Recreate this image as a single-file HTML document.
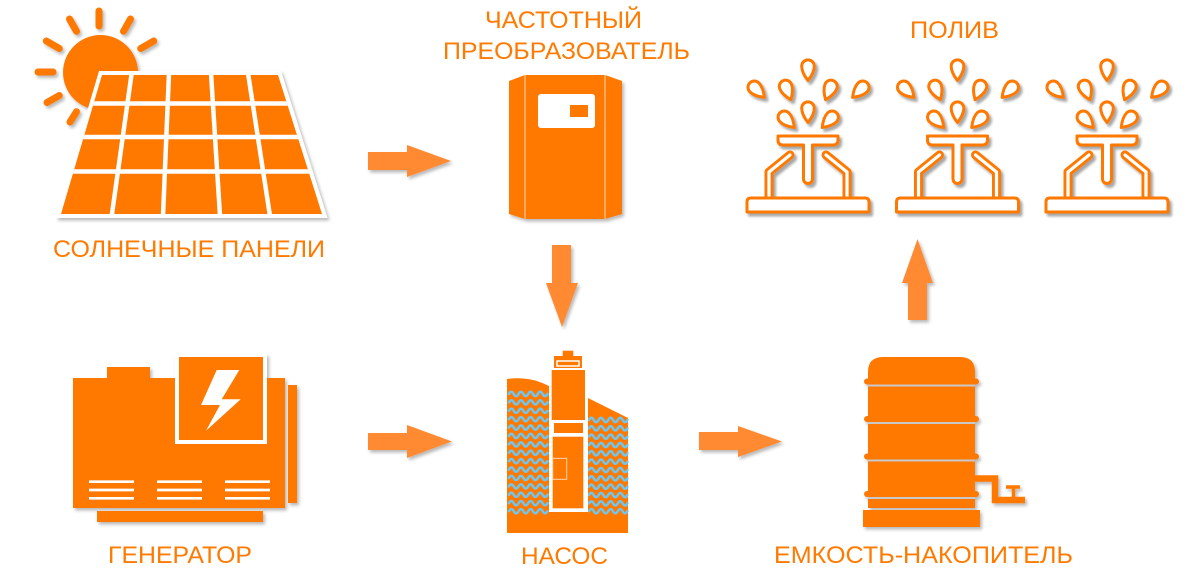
<!DOCTYPE html>
<html><head><meta charset="utf-8"><style>html,body{margin:0;padding:0;background:#fff;}svg{display:block}</style></head>
<body>
<svg width="1200" height="579" viewBox="0 0 1200 579" xmlns="http://www.w3.org/2000/svg" xmlns:xlink="http://www.w3.org/1999/xlink">
<defs>
<filter id="sh" x="-15%" y="-15%" width="140%" height="140%"><feDropShadow dx="2" dy="2.5" stdDeviation="1.5" flood-color="#000" flood-opacity="0.28"/></filter>
<filter id="sh2" x="-15%" y="-15%" width="140%" height="140%"><feDropShadow dx="2.5" dy="3" stdDeviation="1.3" flood-color="#000" flood-opacity="0.35"/></filter>
<clipPath id="pc"><polygon points="102,75 278,75 322,214 61,214"/></clipPath>
<path id="wv" d="M0,0 q2.4,-4.4 4.8,0 t4.8,0 t4.8,0 t4.8,0 t4.8,0 t4.8,0 t4.8,0 t4.8,0" fill="none" stroke="#6fc6f0" stroke-width="2.5" stroke-linecap="round"/>
<path id="drop" d="M0,10.5 C-3.5,6 -6.3,1.5 -6.3,-3.8 A6.3,6.3 0 0 1 6.3,-3.8 C6.3,1.5 3.5,6 0,10.5 Z"/>
<g id="spr" fill="#fff" stroke="#ff7800" stroke-width="3" stroke-linejoin="round">
 <use xlink:href="#drop" href="#drop" transform="translate(0,70)"/>
 <use xlink:href="#drop" href="#drop" transform="translate(-51,90) rotate(-45)"/>
 <use xlink:href="#drop" href="#drop" transform="translate(-21,90) rotate(-22)"/>
 <use xlink:href="#drop" href="#drop" transform="translate(21.5,90) rotate(22)"/>
 <use xlink:href="#drop" href="#drop" transform="translate(52,90) rotate(45)"/>
 <use xlink:href="#drop" href="#drop" transform="translate(0,112)"/>
 <use xlink:href="#drop" href="#drop" transform="translate(-21,120) rotate(-44)"/>
 <use xlink:href="#drop" href="#drop" transform="translate(21.5,120) rotate(44)"/>
 <path d="M-18,155 L-39,172 V201" stroke-width="9" stroke-linecap="round" fill="none"/>
 <path d="M-18,155 L-39,172 V201" stroke="#fff" stroke-width="3.2" stroke-linecap="round" fill="none"/>
 <path d="M18,155 L39,172 V201" stroke-width="9" stroke-linecap="round" fill="none"/>
 <path d="M18,155 L39,172 V201" stroke="#fff" stroke-width="3.2" stroke-linecap="round" fill="none"/>
 <path d="M-30,136 H30 V140 Q30,145 25,145 H4.5 V179 A4.5,4.5 0 0 1 -4.5,179 V145 H-25 Q-30,145 -30,140 Z"/>
 <path d="M-57,198 H57 Q61,198 61,202 V212 H-61 V202 Q-61,198 -57,198 Z"/>
</g>
</defs>

<!-- SOLAR -->
<g filter="url(#sh)">
 <g stroke="#ff7800" stroke-width="7" stroke-linecap="round">
  <line x1="99" y1="11" x2="99" y2="26"/>
  <line x1="76.5" y1="31.3" x2="69.5" y2="19"/>
  <line x1="123.5" y1="31.3" x2="130.5" y2="19"/>
  <line x1="59.3" y1="48.5" x2="46.3" y2="41"/>
  <line x1="140.7" y1="48.5" x2="153.7" y2="41"/>
  <line x1="53" y1="72" x2="38" y2="72"/>
  <line x1="59.3" y1="95.5" x2="47" y2="102.5"/>
  <line x1="76.5" y1="111.7" x2="70" y2="122"/>
 </g>
 <circle cx="100.5" cy="72.5" r="37.5" fill="#ff7800"/>
 <polygon points="102,75 278,75 322,214 61,214" fill="#fff" stroke="#fff" stroke-width="8" stroke-linejoin="miter"/>
 <polygon points="102,75 278,75 322,214 61,214" fill="#ff7800"/>
 <g stroke="#fff" stroke-width="4.5" clip-path="url(#pc)">
  <line x1="50" y1="103.5" x2="330" y2="103.5"/>
  <line x1="50" y1="137" x2="330" y2="137"/>
  <line x1="50" y1="171.5" x2="330" y2="171.5"/>
  <line x1="131.7" y1="73" x2="111.7" y2="216"/>
  <line x1="169" y1="73" x2="163" y2="216"/>
  <line x1="211" y1="73" x2="220" y2="216"/>
  <line x1="248" y1="73" x2="270" y2="216"/>
 </g>
</g>

<!-- CONVERTER -->
<g filter="url(#sh)">
 <polygon points="509,81 525,75 525,219 509,214" fill="#ff7800"/>
 <rect x="525" y="75" width="80" height="144" fill="#ff7800"/>
 <polygon points="605,75 622,81 622,214 605,219" fill="#ff7800"/>
 <line x1="525" y1="75" x2="525" y2="219" stroke="#ffd6b3" stroke-width="1"/>
 <line x1="605" y1="75" x2="605" y2="219" stroke="#ffd6b3" stroke-width="1"/>
 <rect x="538" y="94" width="57" height="34" rx="3" fill="#fff"/>
 <rect x="570" y="105" width="18" height="12" fill="#ff7800"/>
</g>

<!-- SPRINKLERS -->
<use xlink:href="#spr" href="#spr" transform="translate(808,0)" filter="url(#sh2)"/>
<use xlink:href="#spr" href="#spr" transform="translate(957.5,0)" filter="url(#sh2)"/>
<use xlink:href="#spr" href="#spr" transform="translate(1107,0)" filter="url(#sh2)"/>

<!-- ARROWS -->
<g fill="#ff8a30" filter="url(#sh)">
 <polygon points="368,152 407,152 407,145 451,161 407,177 407,170 368,170"/>
 <polygon points="552,245 571,245 571,283 578,283 562,327 546,283 552,283"/>
 <polygon points="368,433 407,433 407,425 452,441.5 407,458 407,450 368,450"/>
 <polygon points="699,432 738,432 738,426 782,441.5 738,457 738,450 699,450"/>
 <polygon points="908,320 927,320 927,283 933,283 917.5,239 902,283 908,283"/>
</g>

<!-- GENERATOR -->
<g filter="url(#sh)">
 <rect x="107" y="367" width="43" height="13" fill="#ff7800"/>
 <rect x="73" y="378" width="212" height="130" fill="#ff7800"/>
 <rect x="175" y="354" width="92" height="90" fill="#fff"/>
 <rect x="179" y="357" width="84" height="83" fill="#ff7800"/>
 <rect x="288" y="385" width="9" height="118" fill="#ff7800"/>
 <rect x="97" y="511" width="166" height="11" fill="#ff7800"/>
 <polygon points="216.7,370 239.3,370 221.7,399.3 240.7,399.3 206,430.7 220,405 201,405" fill="#fff"/>
 <g stroke="#fff" stroke-width="2.7">
  <line x1="89" y1="481.7" x2="134" y2="481.7"/><line x1="89" y1="490" x2="134" y2="490"/><line x1="89" y1="498.3" x2="134" y2="498.3"/>
  <line x1="157" y1="481.7" x2="202" y2="481.7"/><line x1="157" y1="490" x2="202" y2="490"/><line x1="157" y1="498.3" x2="202" y2="498.3"/>
  <line x1="225" y1="481.7" x2="270" y2="481.7"/><line x1="225" y1="490" x2="270" y2="490"/><line x1="225" y1="498.3" x2="270" y2="498.3"/>
 </g>
</g>

<!-- PUMP -->
<g>
 <path d="M507,379 Q530,376 549,386 V533 H507 Z" fill="#ff7800"/>
 <path d="M588,398 L628,418 V533 H588 Z" fill="#ff7800"/>
 <rect x="507" y="512" width="121" height="21" fill="#ff7800"/>
 <g>
  <use xlink:href="#wv" href="#wv" x="509" y="394"/>
  <use xlink:href="#wv" href="#wv" x="509" y="402.4"/>
  <use xlink:href="#wv" href="#wv" x="509" y="410.8"/>
  <use xlink:href="#wv" href="#wv" x="509" y="419.2"/>
  <use xlink:href="#wv" href="#wv" x="509" y="427.6"/>
  <use xlink:href="#wv" href="#wv" x="509" y="436"/>
  <use xlink:href="#wv" href="#wv" x="509" y="444.4"/>
  <use xlink:href="#wv" href="#wv" x="509" y="452.8"/>
  <use xlink:href="#wv" href="#wv" x="509" y="461.2"/>
  <use xlink:href="#wv" href="#wv" x="509" y="469.6"/>
  <use xlink:href="#wv" href="#wv" x="509" y="478"/>
  <use xlink:href="#wv" href="#wv" x="509" y="486.4"/>
  <use xlink:href="#wv" href="#wv" x="509" y="494.8"/>
  <use xlink:href="#wv" href="#wv" x="509" y="503.2"/>
  <use xlink:href="#wv" href="#wv" x="509" y="511.2"/>
  <use xlink:href="#wv" href="#wv" x="589" y="420"/>
  <use xlink:href="#wv" href="#wv" x="589" y="428.34"/>
  <use xlink:href="#wv" href="#wv" x="589" y="436.68"/>
  <use xlink:href="#wv" href="#wv" x="589" y="445.02"/>
  <use xlink:href="#wv" href="#wv" x="589" y="453.36"/>
  <use xlink:href="#wv" href="#wv" x="589" y="461.7"/>
  <use xlink:href="#wv" href="#wv" x="589" y="470.04"/>
  <use xlink:href="#wv" href="#wv" x="589" y="478.38"/>
  <use xlink:href="#wv" href="#wv" x="589" y="486.72"/>
  <use xlink:href="#wv" href="#wv" x="589" y="495.06"/>
  <use xlink:href="#wv" href="#wv" x="589" y="503.4"/>
  <use xlink:href="#wv" href="#wv" x="589" y="511.2"/>
 </g>
 <rect x="549" y="368" width="39" height="144" fill="#fff"/>
 <rect x="562.7" y="350.7" width="10.6" height="5.6" fill="#ff7800"/>
 <rect x="554" y="356" width="28" height="12" fill="#ff7800"/>
 <rect x="557" y="361" width="22" height="5" fill="none" stroke="#fff" stroke-width="1.5"/>
 <rect x="551.7" y="370" width="33.3" height="50" fill="#ff7800"/>
 <rect x="554" y="423" width="29" height="10" fill="#ff7800"/>
 <rect x="552.7" y="436.7" width="30.6" height="71.6" fill="#ff7800"/>
 <rect x="552.7" y="458.3" width="14" height="21" fill="none" stroke="#ffd6b3" stroke-width="1"/>
</g>

<!-- TANK -->
<g filter="url(#sh)">
 <path d="M868,508 V372 Q868,357 883,357 H960 Q975,357 975,372 V508 Z" fill="#ff7800"/>
 <g fill="#c9c9c9">
  <rect x="868" y="384.5" width="107" height="2"/>
  <rect x="868" y="422" width="107" height="2"/>
  <rect x="868" y="459.5" width="107" height="2"/>
  <rect x="868" y="497" width="107" height="2"/>
 </g>
 <g fill="#ff7800">
  <rect x="864" y="378.5" width="115" height="6" rx="3"/>
  <rect x="864" y="416" width="115" height="6" rx="3"/>
  <rect x="864" y="453.5" width="115" height="6" rx="3"/>
  <rect x="864" y="491" width="115" height="6" rx="3"/>
  <rect x="863" y="510" width="117" height="17"/>
 </g>
 <path d="M975,478.5 H995 V500 H1025" fill="none" stroke="#ff7800" stroke-width="6.5"/>
 <line x1="1013.5" y1="487" x2="1013.5" y2="498" stroke="#ff7800" stroke-width="3.5"/>
 <line x1="1006" y1="487" x2="1020" y2="487" stroke="#ff7800" stroke-width="3.5"/>
</g>

<!-- LABELS -->
<g fill="#ff7a00" font-family="'Liberation Sans', 'DejaVu Sans', sans-serif" font-size="24">
 <text x="53" y="257" textLength="272" lengthAdjust="spacingAndGlyphs">СОЛНЕЧНЫЕ ПАНЕЛИ</text>
 <text x="485" y="28" textLength="157" lengthAdjust="spacingAndGlyphs">ЧАСТОТНЫЙ</text>
 <text x="443" y="59" textLength="247" lengthAdjust="spacingAndGlyphs">ПРЕОБРАЗОВАТЕЛЬ</text>
 <text x="910" y="38" textLength="89" lengthAdjust="spacingAndGlyphs">ПОЛИВ</text>
 <text x="108" y="563" textLength="144" lengthAdjust="spacingAndGlyphs">ГЕНЕРАТОР</text>
 <text x="521" y="564" textLength="87" lengthAdjust="spacingAndGlyphs">НАСОС</text>
 <text x="774" y="563" textLength="299" lengthAdjust="spacingAndGlyphs">ЕМКОСТЬ-НАКОПИТЕЛЬ</text>
</g>
</svg>
</body></html>
